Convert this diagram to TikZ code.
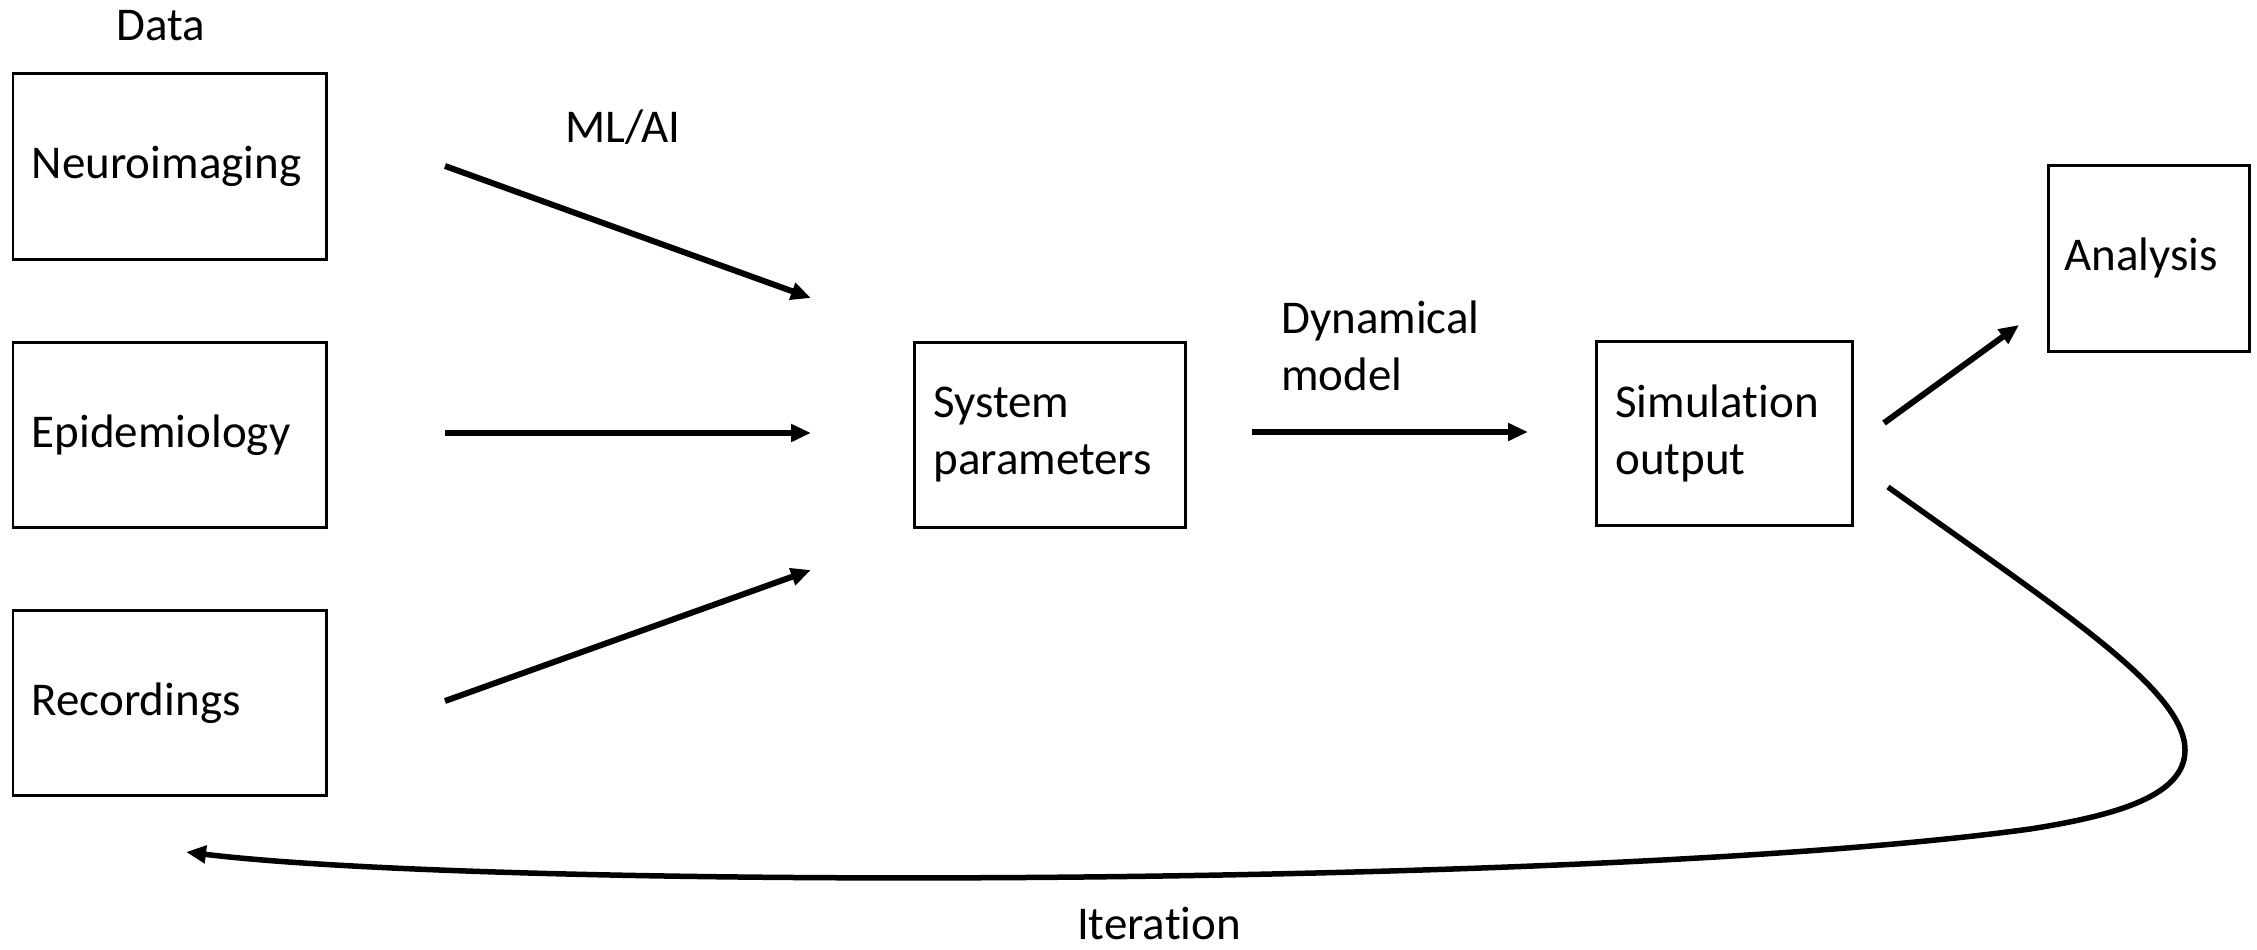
\documentclass[tikz,border=0pt]{standalone}
\usepackage{fontspec}
\setmainfont{Carlito}[Ligatures=NoCommon]
\usetikzlibrary{arrows.meta}
\begin{document}
\begin{tikzpicture}[x=1pt,y=-1pt,
  box/.style={draw, line width=2.7pt, inner xsep=19pt, inner ysep=0pt, align=left, anchor=north west, font=\fontsize{47}{57}\selectfont},
  lbl/.style={font=\fontsize{47}{57}\selectfont, inner sep=0pt},
  arr/.style={line width=6pt, -{Triangle[length=20pt,width=17pt]}},
  curvearr/.style={line width=5.5pt, -{Triangle[length=20pt,width=17pt]}},
]
\useasboundingbox (0,0) rectangle (2257,950);
% boxes
\node[box, text width=275.5pt, minimum height=186pt] (neuro) at (11.5,72) {Neuroimaging};
\node[box, text width=275.5pt, minimum height=185pt] (epi) at (11.5,341) {Epidemiology};
\node[box, text width=275.5pt, minimum height=185pt] (rec) at (11.5,609) {Recordings};
\node[box, text width=233pt, minimum height=185pt] (sys) at (913,341) {System\\parameters};
\node[box, text width=218pt, minimum height=184pt] (sim) at (1595,340) {Simulation\\output};
\node[box, inner xsep=16pt, text width=169pt, minimum height=186pt] (ana) at (2047,164) {Analysis};
% labels
\node[lbl] (data) at (161,26) {Data};
\node[lbl] (ml) at (623,127) {ML/AI};
\node[lbl, align=left, anchor=west] (dyn) at (1281,346) {Dynamical\\model};
\node[lbl, anchor=base] (iter) at (1159,939) {Iteration};
% connector end points
\coordinate (n1) at (445,166);
\coordinate (n2) at (811,298);
\coordinate (e1) at (445,433);
\coordinate (e2) at (811,433);
\coordinate (r1) at (445,701);
\coordinate (r2) at (811,570);
\coordinate (d1) at (1252,432);
\coordinate (d2) at (1528,432);
\coordinate (s1) at (1884,423);
\coordinate (s2) at (2019,325);
\coordinate (c0) at (1888,487);
\coordinate (c1) at (186,852);
% arrows
\draw[arr] (n1) -- (n2);
\draw[arr] (e1) -- (e2);
\draw[arr] (r1) -- (r2);
\draw[arr] (d1) -- (d2);
\draw[arr] (s1) -- (s2);
\draw[curvearr] (c0) .. controls (2060,610) and (2185,690) .. (2185,750)
  .. controls (2185,795) and (2119,815) .. (2030,829)
  .. controls (1600,888) and (500,890) .. (c1);
\end{tikzpicture}
\end{document}
